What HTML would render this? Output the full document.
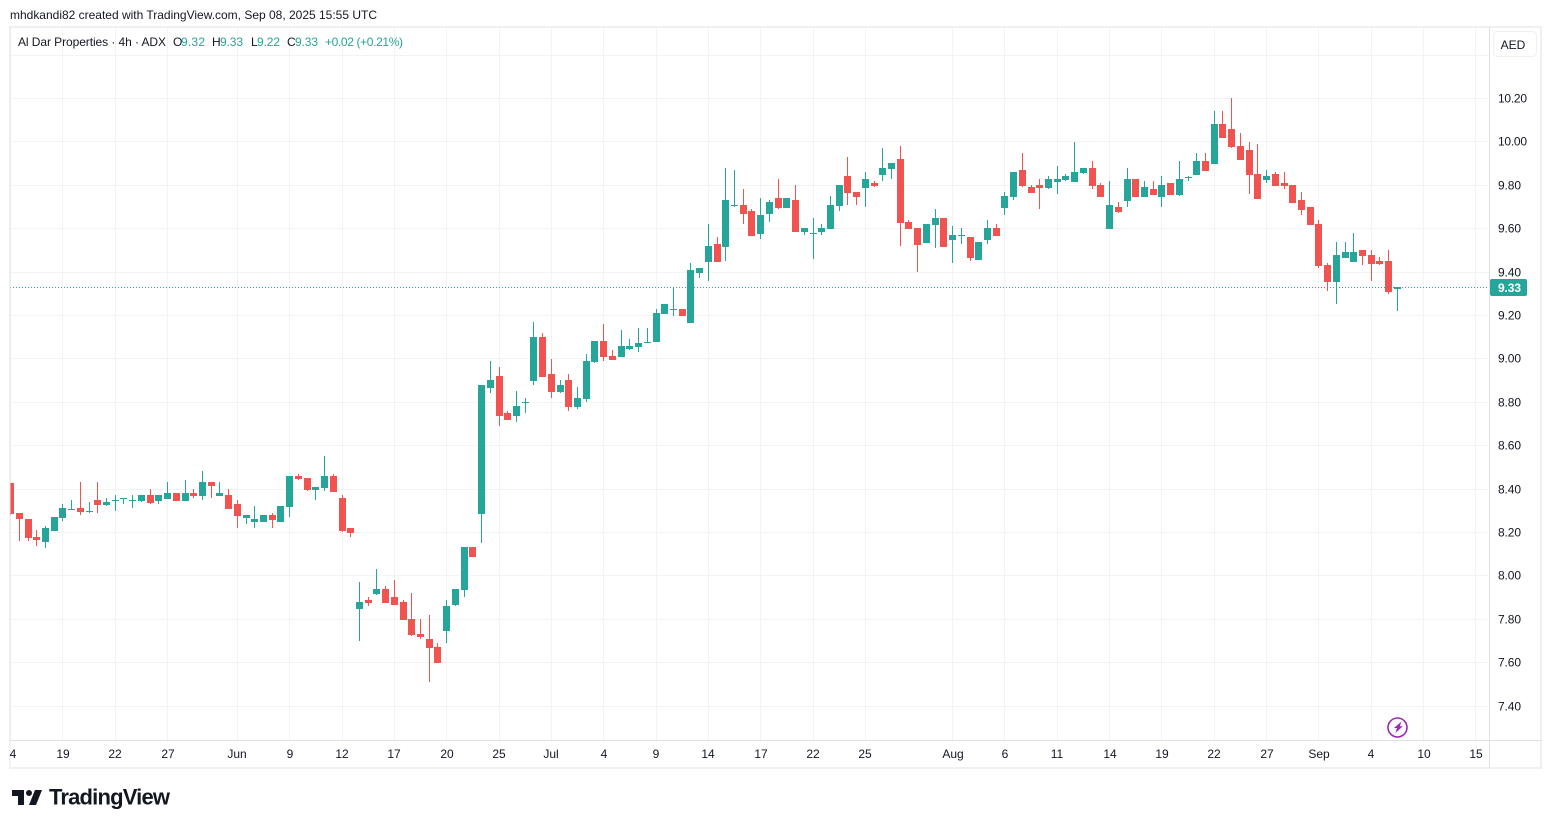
<!DOCTYPE html>
<html lang="en">
<head>
<meta charset="utf-8">
<title>Al Dar Properties 4h ADX chart</title>
<style>
html,body{margin:0;padding:0;background:#fff;width:1551px;height:828px;overflow:hidden;}
svg{display:block;font-family:"Liberation Sans",Arial,sans-serif;}
text{font-size:12px;fill:#131722;}
</style>
</head>
<body>
<svg id="chart" xmlns="http://www.w3.org/2000/svg" width="1551" height="828" viewBox="0 0 1551 828">
  <defs><clipPath id="plot-clip"><rect x="10" y="27" width="1479" height="713"/></clipPath></defs>
  <text x="10" y="19" textLength="367">mhdkandi82 created with TradingView.com, Sep 08, 2025 15:55 UTC</text>
  <g id="grid" shape-rendering="crispEdges"></g>
  <g id="candles" clip-path="url(#plot-clip)" shape-rendering="crispEdges"></g>
  <g id="price-line"></g>
  <g shape-rendering="crispEdges" fill="#f0f0f0">
    <rect x="9" y="26" width="1533" height="2"/>
    <rect x="9" y="26" width="2" height="743" fill="#e6e6e6" fill-opacity="0.5"/>
    <rect x="1540" y="26" width="2" height="743"/>
    <rect x="9" y="767" width="1533" height="2"/>
    <rect x="1489" y="27" width="1" height="741" fill="#e0e0e0"/>
    <rect x="10" y="740" width="1531" height="1" fill="#e0e0e0"/>
  </g>
  <g id="y-axis"></g>
  <g id="x-axis"></g>
  <g>
    <rect x="1493.5" y="31.5" width="43" height="25" rx="4" fill="#fff" stroke="#f0f0f0"/>
    <text x="1513" y="49" text-anchor="middle">AED</text>
  </g>
  <g>
    <text x="18" y="46" textLength="148">Al Dar Properties · 4h · ADX</text>
    <text x="173" y="46">O</text>
    <text x="181" y="46" style="fill:#26a69a" textLength="24">9.32</text>
    <text x="212" y="46">H</text>
    <text x="220" y="46" style="fill:#26a69a" textLength="23">9.33</text>
    <text x="251" y="46">L</text>
    <text x="257" y="46" style="fill:#26a69a" textLength="23">9.22</text>
    <text x="287" y="46">C</text>
    <text x="295" y="46" style="fill:#26a69a" textLength="23">9.33</text>
    <text x="325" y="46" style="fill:#26a69a" textLength="78">+0.02 (+0.21%)</text>
  </g>
  <g>
    <circle cx="1397.5" cy="727.5" r="9.5" fill="#fff" stroke="#9c27b0" stroke-width="1.6"/>
    <path d="M1401.5 721.5l-7.5 6.5h3l-1.5 5 7.2-6.7h-3z" fill="#9c27b0"/>
  </g>
  <g>
    <path transform="translate(10 784)" fill="#131722" d="M14 6H2v6h6v9h6V6Zm12 15h-7l6-15h7l-6 15Zm-7-9a3 3 0 1 0 0-6 3 3 0 0 0 0 6Z"/>
    <text x="49" y="804.5" textLength="121" style="font-size:22px;font-weight:700;fill:#131722;">TradingView</text>
  </g>
</svg>
<script>
const opens = [
8.43,8.29,8.26,8.18,8.156,8.207,8.267,8.31,8.313,8.30,
8.35,8.327,8.35,8.36,8.35,8.345,8.373,8.345,8.354,8.382,
8.345,8.382,8.368,8.432,8.368,8.373,8.331,8.267,8.248,8.248,
8.28,8.248,8.317,8.46,8.451,8.396,8.405,8.46,8.359,8.22,
7.848,7.89,7.917,7.94,7.903,7.88,7.801,7.732,7.709,7.672,
7.746,7.866,7.935,8.133,8.285,8.866,8.921,8.751,8.737,8.80,
8.898,9.101,8.93,8.847,8.903,8.778,8.815,8.986,9.082,9.013,
9.009,9.046,9.055,9.08,9.078,9.207,9.23,9.23,9.165,9.396,
9.446,9.53,9.516,9.71,9.71,9.682,9.576,9.668,9.741,9.695,
9.732,9.585,9.58,9.585,9.599,9.705,9.843,9.769,9.788,9.81,
9.847,9.875,9.921,9.631,9.603,9.534,9.617,9.649,9.548,9.57,
9.562,9.456,9.548,9.603,9.695,9.746,9.87,9.792,9.802,9.788,
9.815,9.824,9.815,9.857,9.88,9.802,9.599,9.70,9.728,9.829,
9.746,9.783,9.746,9.811,9.755,9.84,9.848,9.912,9.898,10.083,
10.059,9.981,9.963,9.852,9.825,9.852,9.811,9.802,9.732,9.70,
9.622,9.433,9.354,9.465,9.447,9.502,9.479,9.451,9.451,9.32
];
const highs = [
8.43,8.29,8.26,8.21,8.23,8.271,8.33,8.35,8.432,8.34,
8.432,8.36,8.373,8.36,8.373,8.373,8.40,8.373,8.432,8.382,
8.442,8.40,8.483,8.432,8.432,8.40,8.35,8.28,8.322,8.28,
8.29,8.322,8.46,8.469,8.451,8.41,8.552,8.469,8.373,8.22,
7.972,7.903,8.032,7.954,7.981,7.889,7.921,7.801,7.82,7.691,
7.889,7.94,8.133,8.133,8.88,8.99,8.963,8.76,8.852,8.82,
9.17,9.12,9.0,8.903,8.93,8.87,9.023,9.082,9.161,9.041,
9.133,9.092,9.142,9.142,9.23,9.253,9.331,9.23,9.442,9.419,
9.622,9.562,9.88,9.87,9.783,9.691,9.741,9.732,9.829,9.741,
9.802,9.603,9.65,9.622,9.751,9.801,9.93,9.769,9.861,9.82,
9.972,9.903,9.981,9.64,9.603,9.622,9.691,9.649,9.612,9.603,
9.562,9.539,9.64,9.622,9.769,9.861,9.949,9.802,9.829,9.843,
9.889,9.852,9.999,9.88,9.912,9.811,9.82,9.723,9.88,9.829,
9.82,9.82,9.843,9.811,9.912,9.843,9.949,9.949,10.142,10.142,
10.202,10.041,10.0,9.99,9.87,9.861,9.861,9.802,9.769,9.70,
9.64,9.442,9.539,9.539,9.58,9.502,9.502,9.47,9.502,9.33
];
const lows = [
8.28,8.16,8.16,8.14,8.13,8.207,8.253,8.308,8.28,8.29,
8.29,8.322,8.30,8.33,8.313,8.34,8.33,8.33,8.354,8.345,
8.345,8.359,8.35,8.359,8.368,8.308,8.22,8.239,8.22,8.248,
8.22,8.248,8.271,8.442,8.391,8.35,8.391,8.386,8.202,8.18,
7.70,7.861,7.912,7.875,7.866,7.797,7.723,7.709,7.511,7.599,
7.691,7.861,7.903,8.087,8.152,8.843,8.691,8.718,8.709,8.75,
8.88,8.917,8.82,8.843,8.76,8.769,8.801,8.981,8.99,8.995,
9.009,9.041,9.032,9.073,9.078,9.207,9.20,9.198,9.165,9.373,
9.359,9.446,9.451,9.70,9.622,9.566,9.553,9.631,9.691,9.695,
9.585,9.571,9.46,9.571,9.599,9.682,9.71,9.71,9.70,9.792,
9.82,9.829,9.52,9.599,9.40,9.534,9.511,9.516,9.442,9.53,
9.451,9.456,9.53,9.566,9.663,9.732,9.792,9.765,9.691,9.783,
9.76,9.82,9.815,9.852,9.783,9.746,9.599,9.672,9.70,9.746,
9.746,9.755,9.70,9.755,9.75,9.82,9.848,9.866,9.898,10.018,
9.972,9.917,9.76,9.737,9.81,9.797,9.783,9.72,9.663,9.617,
9.419,9.313,9.253,9.465,9.447,9.433,9.359,9.433,9.299,9.22
];
const closes = [
8.285,8.26,8.175,8.165,8.22,8.271,8.313,8.31,8.295,8.30,
8.327,8.34,8.35,8.36,8.35,8.373,8.336,8.373,8.382,8.345,
8.382,8.368,8.432,8.414,8.382,8.308,8.276,8.28,8.262,8.28,
8.257,8.322,8.46,8.446,8.396,8.41,8.46,8.386,8.207,8.197,
7.88,7.875,7.94,7.875,7.866,7.797,7.728,7.718,7.668,7.599,
7.861,7.94,8.133,8.087,8.88,8.903,8.737,8.718,8.783,8.80,
9.101,8.917,8.847,8.88,8.778,8.82,8.99,9.082,9.009,8.995,
9.06,9.06,9.073,9.08,9.212,9.253,9.23,9.198,9.41,9.419,
9.52,9.446,9.732,9.71,9.668,9.566,9.663,9.723,9.695,9.741,
9.585,9.603,9.58,9.603,9.709,9.801,9.765,9.746,9.829,9.797,
9.88,9.903,9.626,9.599,9.525,9.622,9.649,9.516,9.571,9.57,
9.465,9.539,9.603,9.566,9.751,9.861,9.797,9.765,9.788,9.829,
9.829,9.843,9.861,9.88,9.797,9.746,9.709,9.677,9.829,9.746,
9.792,9.755,9.802,9.755,9.829,9.84,9.912,9.866,10.083,10.018,
9.977,9.917,9.848,9.737,9.843,9.797,9.797,9.72,9.686,9.617,
9.428,9.354,9.479,9.493,9.493,9.474,9.437,9.437,9.308,9.33
];
const priceTicks = [10.20,10.00,9.80,9.60,9.40,9.20,9.00,8.80,8.60,8.40,8.20,8.00,7.80,7.60,7.40];
const gridOnlyPrices = [10.40];
const timeLabels = ['4','19','22','27','Jun','9','12','17','20','25','Jul','4','9','14','17','22','25','Aug','6','11','14','19','22','27','Sep','4','10','15'];
const timeBars = [0,6,12,18,26,32,38,44,50,56,62,68,74,80,86,92,98,108,114,120,126,132,138,144,150,156,162,168];
const lastPrice = [9.33];

const NS = 'http://www.w3.org/2000/svg';
const UP = '#26a69a';
const DOWN = '#f05350';
function xScale(bar) { return 10.6 + bar * 8.722; }
function yScale(price) { return 98.5 + (10.2 - price) * 217; }
function make(tag, parent, attrs) {
  const el = document.createElementNS(NS, tag);
  for (const k in attrs) el.setAttribute(k, attrs[k]);
  parent.appendChild(el);
  return el;
}
const gridG = document.getElementById('grid');
const candleG = document.getElementById('candles');
const yAxisG = document.getElementById('y-axis');
const xAxisG = document.getElementById('x-axis');
const lineG = document.getElementById('price-line');

priceTicks.concat(gridOnlyPrices).forEach(function (p) {
  const gl = make('rect', gridG, {x: 10, y: Math.floor(yScale(p)), width: 1479, height: 1, fill: '#f3f3f3'});
  
  
});
timeBars.forEach(function (b) {
  const x = Math.floor(xScale(b));
  if (x >= 1489) return;
  const gl = make('rect', gridG, {x: x, y: 27, width: 1, height: 713, fill: '#f3f3f3'});
  
  
});

opens.forEach(function (o, i) {
  const c = closes[i];
  const color = c >= o ? UP : DOWN;
  const cx = Math.floor(xScale(i));
  const wy = Math.round(yScale(highs[i]));
  const wick = make('rect', candleG, {x: cx, y: wy, width: 1, height: Math.max(1, Math.round(yScale(lows[i])) - wy), fill: color});
  
  
  const by = Math.round(yScale(Math.max(o, c)));
  const body = make('rect', candleG, {x: cx - 3, y: by, width: 7, height: Math.max(1, Math.round(yScale(Math.min(o, c))) - by), fill: color});
  
  
});

const dottedY = Math.floor(yScale(lastPrice[0])) + 0.5;
const dotted = make('line', lineG, {x1: 10, x2: 1489, y1: dottedY, y2: dottedY, stroke: UP, 'stroke-width': 1, 'stroke-dasharray': '1 2', 'shape-rendering': 'crispEdges'});



priceTicks.forEach(function (p) {
  const t = make('text', yAxisG, {x: 1498, y: Math.floor(yScale(p)) + 4.5, textLength: p >= 10 ? 29 : 23});
  
  
  t.textContent = p.toFixed(2);
});
const tagY = Math.floor(yScale(lastPrice[0]));
const tag = make('rect', lineG, {x: 1490, y: tagY - 8, width: 37, height: 17, rx: 2, fill: UP});


const tagText = make('text', lineG, {x: 1498, y: tagY + 5, textLength: 23, style: 'fill:#fff;font-weight:700'});


tagText.textContent = lastPrice[0].toFixed(2);

timeLabels.forEach(function (lab, i) {
  const x = Math.round(xScale(timeBars[i]));
  const t = make('text', xAxisG, {x: i === 0 ? 13 : x, y: 758, 'text-anchor': 'middle'});
  
  
  t.textContent = lab;
});
</script>
</body>
</html>
